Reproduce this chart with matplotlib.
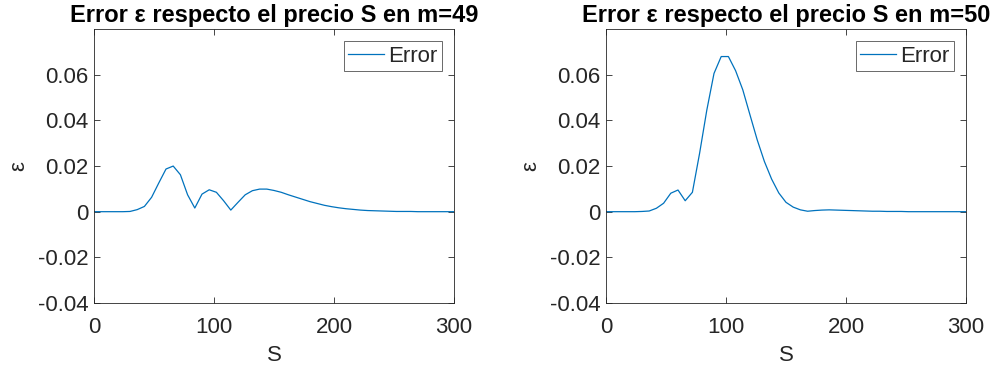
import numpy as np
import matplotlib
matplotlib.use("Agg")
from matplotlib import pyplot as plt

# S grid (step 6) and error values
s_vals = [0, 6, 12, 18, 24, 30, 36, 42, 48, 54, 60, 66, 72, 78, 84, 90, 96, 102,
          108, 114, 120, 126, 132, 138, 144, 150, 156, 162, 168, 174, 180, 186,
          192, 198, 204, 210, 216, 222, 228, 234, 240, 246, 252, 258, 264, 270,
          276, 282, 288, 294, 300]

err_m49 = [0, 0, 0, 0, 0, 0.0001, 0.0009, 0.0023, 0.0063, 0.0126, 0.0187, 0.0200,
           0.0162, 0.0074, 0.0016, 0.0077, 0.0096, 0.0085, 0.0048, 0.0007, 0.0041,
           0.0074, 0.0092, 0.0099, 0.0099, 0.0093, 0.0085, 0.0074, 0.0064, 0.0054,
           0.0044, 0.0036, 0.0028, 0.0022, 0.0017, 0.0013, 0.0010, 0.0007, 0.0005,
           0.0004, 0.0003, 0.0002, 0.0001, 0.0001, 0.0001, 0, 0, 0, 0, 0, 0]

err_m50 = [0, 0, 0, 0, 0, 0.0001, 0.0003, 0.0015, 0.0037, 0.0081, 0.0095, 0.0048,
           0.0085, 0.0256, 0.0445, 0.0606, 0.0680, 0.0680, 0.0618, 0.0534, 0.0424,
           0.0315, 0.0220, 0.0143, 0.0082, 0.0041, 0.0020, 0.0008, 0.0002, 0.0005,
           0.0007, 0.0008, 0.0007, 0.0006, 0.0005, 0.0004, 0.0003, 0.0002, 0.0002,
           0.0001, 0.0001, 0.0001, 0, 0, 0, 0, 0, 0, 0, 0, 0]

titles = ["Error ε respecto el precio S en m=49", "Error ε respecto el precio S en m=50"]
x_ticks = [0, 100, 200, 300]
y_ticks = [-0.04, -0.02, 0, 0.02, 0.04, 0.06]
y_tick_labels = ["-0.04", "-0.02", "0", "0.02", "0.04", "0.06"]

plt.rcParams["font.family"] = ["Liberation Sans", "DejaVu Sans"]
grey = "#262626"

fig = plt.figure(figsize=(10, 3.74), dpi=100)
ax1 = fig.add_axes([0.094, 0.190, 0.36, 0.732])
ax2 = fig.add_axes([0.606, 0.190, 0.36, 0.732])

for ax, err, title in [(ax1, err_m49, titles[0]), (ax2, err_m50, titles[1])]:
    ax.plot(s_vals, err, color="#0072BD", linewidth=0.9, label="Error")
    ax.set_xlim(0, 300)
    ax.set_ylim(-0.04, 0.08)
    ax.set_xticks(x_ticks)
    ax.set_xticklabels([str(t) for t in x_ticks])
    ax.set_yticks(y_ticks)
    ax.set_yticklabels(y_tick_labels)
    ax.tick_params(direction="in", top=True, right=True, labelsize=16,
                   colors=grey, length=4, width=0.6)
    ax.tick_params(axis="x", pad=10)
    ax.tick_params(axis="y", pad=4)
    for sp in ax.spines.values():
        sp.set_color(grey)
        sp.set_linewidth(0.6)
    ax.set_title(title, fontsize=17, fontweight="bold", pad=5)
    ax.set_xlabel("S", fontsize=16, color=grey, labelpad=5)
    ax.set_ylabel("ε", fontsize=16, color=grey, labelpad=6)
    leg = ax.legend(loc="upper right", fontsize=16, fancybox=False,
                    handlelength=1.6, handletextpad=0.2, borderpad=0.2,
                    borderaxespad=0.55)
    leg.get_frame().set_edgecolor(grey)
    leg.get_frame().set_linewidth(0.6)
    for t in leg.get_texts():
        t.set_color(grey)

fig.savefig("out.png", dpi=100)
